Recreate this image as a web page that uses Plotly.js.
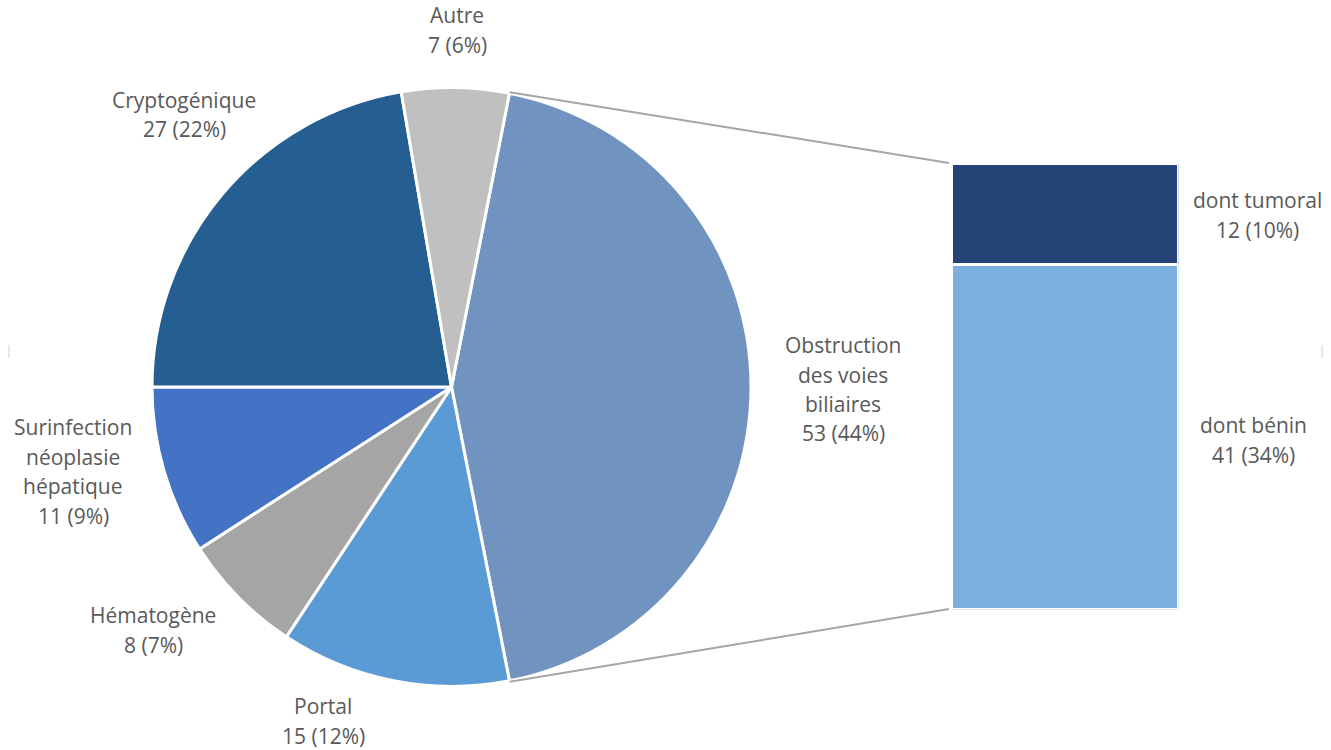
<!DOCTYPE html>
<html>
<head>
<meta charset="utf-8">
<script src="https://cdn.plot.ly/plotly-3.0.1.min.js"></script>
<style>
  html, body { margin: 0; padding: 0; background: #ffffff; }
  #chart { width: 1331px; height: 750px; }
</style>
</head>
<body>
<div id="chart"></div>
<script>
// ---- Data ----
const pieLabels = ["Obstruction des voies biliaires", "Portal", "Hématogène", "Surinfection néoplasie hépatique", "Cryptogénique", "Autre"];
const pieValues = [53, 15, 8, 11, 27, 7];
const pieColors = ["#7093BF", "#5B9BD5", "#A5A5A5", "#4472C4", "#255E91", "#C0C0C0"];
const pieLabelLines = [
  ["Obstruction", "des voies", "biliaires"],
  ["Portal"],
  ["Hématogène"],
  ["Surinfection", "néoplasie", "hépatique"],
  ["Cryptogénique"],
  ["Autre"]
];
const barLabels = ["dont bénin", "dont tumoral"];
const barValues = [41, 12];
const barColors = ["#7CAFDD", "#264478"];

// ---- Geometry (pixels) ----
const W = 1331, H = 750;
const cx = 451.5, cy = 387, R = 299.5;
const barX0 = 953, barX1 = 1177, barTop = 165, barBot = 608;

const total = pieValues.reduce((a, b) => a + b, 0);
const splitFrac = pieValues[0] / total;
const rotation = 90 - splitFrac * 360 / 2;

const px = x => x / W;
const py = y => 1 - y / H;

// label positions (pixel centre of first line)
const pieLabelPos = [[843, 345], [323, 706], [153, 615], [73, 427], [184, 100], [457, 15]];
const barLabelPos = [[1253, 425], [1257, 200]];
const lineGap = 29.5;

const pctStr = v => Math.round(v / total * 100) + "%";
const annotations = [];
const font = { family: "'Open Sans', 'Noto Sans', sans-serif", size: 21, color: "#595959" };
function addLines(lines, pos) {
  lines.forEach((t, i) => {
    annotations.push({
      xref: "paper", yref: "paper",
      x: px(pos[0]), y: py(pos[1] + i * lineGap),
      xanchor: "center", yanchor: "middle",
      text: t, showarrow: false, font: font
    });
  });
}
pieLabels.forEach((l, i) => {
  addLines(pieLabelLines[i].concat([pieValues[i] + " (" + pctStr(pieValues[i]) + ")"]), pieLabelPos[i]);
});
barLabels.forEach((l, i) => {
  addLines([l, barValues[i] + " (" + pctStr(barValues[i]) + ")"], barLabelPos[i]);
});

// connector lines from split slice edges to bar corners
const a0 = rotation * Math.PI / 180;
const a1 = (rotation + splitFrac * 360) * Math.PI / 180;
const p0 = [cx + (R + 1) * Math.sin(a0), cy - (R + 1) * Math.cos(a0)];
const p1 = [cx + (R + 1) * Math.sin(a1), cy - (R + 1) * Math.cos(a1)];
const shapes = [
  { type: "line", xref: "paper", yref: "paper", x0: px(p0[0]), y0: py(p0[1]), x1: px(barX0 - 4), y1: py(barTop - 2), line: { color: "#A6A6A6", width: 2 } },
  { type: "line", xref: "paper", yref: "paper", x0: px(p1[0]), y0: py(p1[1]), x1: px(barX0 - 4), y1: py(barBot + 1), line: { color: "#A6A6A6", width: 2 } },
  { type: "line", xref: "paper", yref: "paper", x0: px(9), y0: py(345), x1: px(9), y1: py(358), line: { color: "#D0D0D0", width: 1 } },
  { type: "line", xref: "paper", yref: "paper", x0: px(1322), y0: py(345), x1: px(1322), y1: py(358), line: { color: "#D0D0D0", width: 1 } }
];

const pieTrace = {
  type: "pie",
  labels: pieLabels,
  values: pieValues,
  sort: false,
  direction: "clockwise",
  rotation: rotation,
  textinfo: "none",
  hoverinfo: "label+value+percent",
  marker: { colors: pieColors, line: { color: "#FFFFFF", width: 3 } },
  domain: { x: [px(cx - R), px(cx + R)], y: [py(cy + R), py(cy - R)] },
  showlegend: false
};

const barTraces = barLabels.map((l, i) => ({
  type: "bar",
  x: [0],
  y: [barValues[i]],
  name: l,
  width: 1,
  xaxis: "x2", yaxis: "y2",
  marker: { color: barColors[i], line: { color: "#FFFFFF", width: 3 } },
  showlegend: false,
  hoverinfo: "name+y"
}));

const layout = {
  width: W, height: H,
  margin: { l: 0, r: 0, t: 0, b: 0 },
  paper_bgcolor: "#FFFFFF",
  plot_bgcolor: "rgba(0,0,0,0)",
  barmode: "stack",
  showlegend: false,
  xaxis2: { domain: [px(barX0 - 1.5), px(barX1 + 1.5)], range: [-0.5, 0.5], visible: false, fixedrange: true, anchor: "y2" },
  yaxis2: { domain: [py(barBot + 1.5), py(barTop - 1.5)], range: [0, barValues.reduce((a, b) => a + b, 0)], visible: false, fixedrange: true, anchor: "x2" },
  annotations: annotations,
  shapes: shapes
};

Plotly.newPlot("chart", [pieTrace].concat(barTraces), layout, { displayModeBar: false, staticPlot: true });
</script>
</body>
</html>
